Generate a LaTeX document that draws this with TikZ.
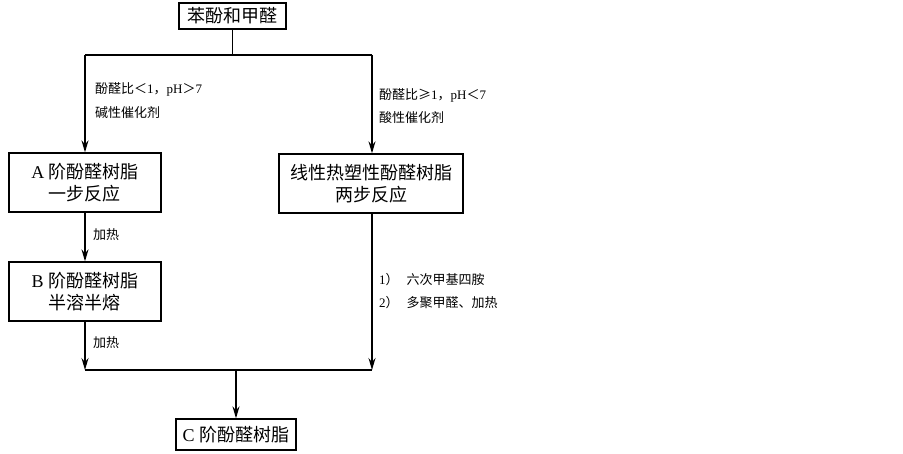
\documentclass[tikz,border=0pt]{standalone}
\usepackage{fontspec}
\setmainfont{Liberation Serif}
\newfontfamily\cjk{Noto Sans CJK SC}
\usetikzlibrary{arrows.meta}
\begin{document}
\begin{tikzpicture}[x=1pt,y=-1pt,
  box/.style={draw,line width=1.3pt,align=center,inner sep=0pt,font=\fontsize{18}{22}\selectfont},
  lbl/.style={anchor=west,inner sep=0pt,font=\fontsize{13}{15}\selectfont},
  conn/.style={line width=1.3pt},
  arr/.style={conn,-{Stealth[length=12pt,width=7pt,inset=4pt]}}]
\useasboundingbox[fill=white] (0,0) rectangle (903,454);
\node[box,minimum width=107pt,minimum height=26pt] (top) at (232.5,16) {\cjk 苯酚和甲醛};
\node[box,minimum width=152pt,minimum height=59pt] (A) at (85,182.5) {A {\cjk 阶酚醛树脂}\\{\cjk 一步反应}};
\node[box,minimum width=184pt,minimum height=59pt] (R) at (371,183.5) {\cjk 线性热塑性酚醛树脂\\\cjk 两步反应};
\node[box,minimum width=152pt,minimum height=59pt] (B) at (85,291.5) {B {\cjk 阶酚醛树脂}\\{\cjk 半溶半熔}};
\node[box,minimum width=120pt,minimum height=31pt] (C) at (236,434.5) {C {\cjk 阶酚醛树脂}};
\coordinate (split) at (232.5,55);
\coordinate (sl) at (85,55);
\coordinate (sr) at (372,55);
\coordinate (jl) at (85,370);
\coordinate (jr) at (372,370);
\coordinate (jc) at (236,370);
\draw[conn] (top.south) -- (split);
\draw[conn] (sl) -- (sr);
\draw[arr] (sl) -- (sl |- A.north);
\draw[arr] (sr) -- (sr |- R.north);
\draw[arr] (A.south) -- (B.north);
\draw[arr] (B.south) -- (jl);
\draw[arr] (sr |- R.south) -- (jr);
\draw[conn] (jl) -- (jr);
\draw[arr] (jc) -- (C.north);
\node[lbl] (l1) at (95,89) {{\cjk 酚醛比＜}1{\cjk ，}pH{\cjk ＞}7};
\node[lbl] (l2) at (95,113) {\cjk 碱性催化剂};
\node[lbl] (r1) at (379,95) {{\cjk 酚醛比≥}1{\cjk ，}pH{\cjk ＜}7};
\node[lbl] (r2) at (379,118) {\cjk 酸性催化剂};
\node[lbl] (h1) at (93,235) {\cjk 加热};
\node[lbl] (h2) at (93,343) {\cjk 加热};
\node[lbl] (s1) at (379,280) {1{\cjk ）}\hspace{8pt}{\cjk 六次甲基四胺}};
\node[lbl] (s2) at (379,303) {2{\cjk ）}\hspace{8pt}{\cjk 多聚甲醛、加热}};
\end{tikzpicture}
\end{document}
